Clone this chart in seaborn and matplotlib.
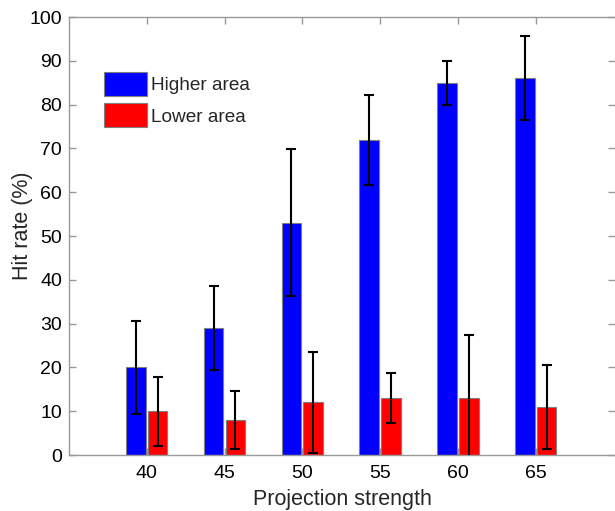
import numpy as np
import pandas as pd
import matplotlib
matplotlib.use("Agg")
import matplotlib.pyplot as plt
import seaborn as sns

# Hit rate per projection strength, with error half-widths
strengths = ["40", "45", "50", "55", "60", "65"]
higher_rate = [20, 29, 53, 72, 85, 86]
higher_err = [10.6, 9.6, 16.8, 10.3, 5.0, 9.6]
lower_rate = [10, 8, 12, 13, 13, 11]
lower_err = [7.9, 6.7, 11.5, 5.7, 14.3, 9.6]
groups = ["Higher area", "Lower area"]
colors = ["#0000ff", "#ff0000"]

df = pd.DataFrame({
    "strength": strengths * 2,
    "rate": higher_rate + lower_rate,
    "group": [groups[0]] * len(strengths) + [groups[1]] * len(strengths),
})

sns.set_style("white")
plt.rcParams["font.family"] = ["Liberation Sans", "DejaVu Sans"]

fig = plt.figure(figsize=(6.15, 5.11), dpi=100)
ax = fig.add_axes([69 / 615, 1 - 455 / 511, (615 - 69) / 615, (455 - 17) / 511])

sns.barplot(data=df, x="strength", y="rate", hue="group", order=strengths,
            hue_order=groups, palette=colors, errorbar=None, width=0.56,
            gap=0.1, edgecolor="#7f7f7f", linewidth=0.8, saturation=1,
            ax=ax)

# error bars at the centre of each drawn bar
errs = {groups[0]: higher_err, groups[1]: lower_err}
vals = {groups[0]: higher_rate, groups[1]: lower_rate}
for container, g in zip(ax.containers, groups):
    xs = [p.get_x() + p.get_width() / 2 for p in container.patches]
    ax.errorbar(xs, vals[g], yerr=errs[g], fmt="none", ecolor="black",
                elinewidth=1.5, capsize=3.5, capthick=1.5, zorder=5)

ax.set_xlim(-1, 6.02)
ax.set_ylim(0, 100)
ax.set_yticks(np.arange(0, 101, 10))
ax.set_xlabel("Projection strength", fontsize=15.5)
ax.set_ylabel("Hit rate (%)", fontsize=15.5)

for side in ["left", "bottom", "top"]:
    ax.spines[side].set_color("#999999")
    ax.spines[side].set_linewidth(1.0)
ax.spines["right"].set_visible(False)

ax.tick_params(axis="both", direction="in", length=5, width=1.0,
               color="#999999", labelsize=14, labelcolor="black",
               top=True, right=True, bottom=True, left=True)
ax.tick_params(axis="x", pad=7)
ax.tick_params(axis="y", pad=5)
ax.xaxis.labelpad = 5
ax.yaxis.set_label_coords(-0.066, 0.523)

leg = ax.legend(loc="upper left", bbox_to_anchor=(0.064, 0.874), frameon=False,
                fontsize=13.7, handlelength=2.26, handleheight=1.57,
                handletextpad=0.22, labelspacing=0.37, borderaxespad=0,
                borderpad=0)
for h in leg.legend_handles:
    h.set_edgecolor("#7f7f7f")

fig.savefig("out.png", dpi=100)
